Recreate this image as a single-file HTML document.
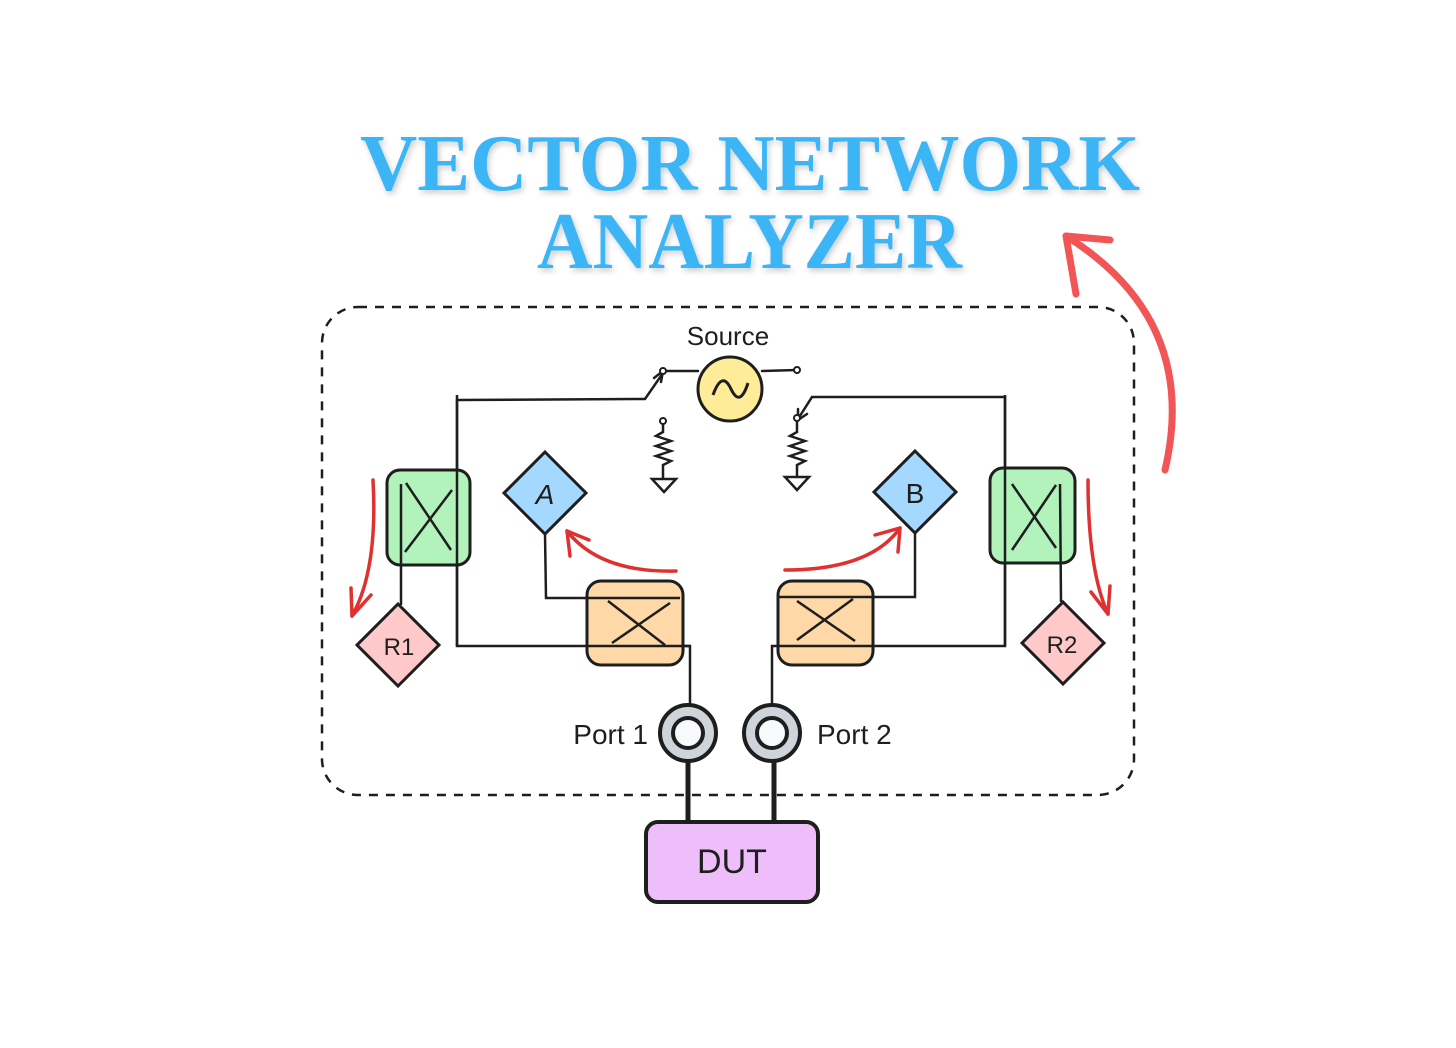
<!DOCTYPE html>
<html><head><meta charset="utf-8"><style>
html,body{margin:0;padding:0;background:#fff;}
svg{display:block;}
text{font-family:"Liberation Sans",sans-serif;}
</style></head><body>
<svg width="1456" height="1048" viewBox="0 0 1456 1048" xmlns="http://www.w3.org/2000/svg">
<rect width="1456" height="1048" fill="#fff"/>
<defs><filter id="sh" x="-5%" y="-5%" width="110%" height="120%"><feDropShadow dx="2" dy="3" stdDeviation="3" flood-color="#000" flood-opacity="0.2"/></filter></defs>
<g filter="url(#sh)" fill="#3bb5f5" font-family="Liberation Serif,serif" font-weight="bold">
<text x="360" y="190" font-size="80" textLength="780" lengthAdjust="spacingAndGlyphs" style="font-family:'Liberation Serif',serif">VECTOR NETWORK</text>
<text x="537" y="268" font-size="80" textLength="425" lengthAdjust="spacingAndGlyphs" style="font-family:'Liberation Serif',serif">ANALYZER</text>
</g>
<!-- big red arrow -->
<g fill="none" stroke="#f25555" stroke-width="7" stroke-linecap="round">
<path d="M1165 470 Q1200 320 1066 236"/>
<path d="M1066 236 L1110 240 M1066 236 L1076 294"/>
</g>
<!-- dashed frame -->
<rect x="322" y="307" width="812" height="488" rx="36" fill="none" stroke="#1e1e1e" stroke-width="2.5" stroke-dasharray="9 8"/>
<!-- wiring -->
<g fill="none" stroke="#1e1e1e" stroke-width="2.5" stroke-linecap="round">
<path d="M457 400 L645 399 L663 373"/>
<path d="M654 378 L663 371 L661 382"/>
<path d="M663 371 L698 371"/>
<path d="M762 371 L797 370"/>
<path d="M1005 397 L812 397 L798 419"/>
<path d="M798 409 L798 420 L807 414"/>
<path d="M457 400 L457 646 L690 646 L690 705"/>
<path d="M1005 397 L1005 646 L772 646 L772 705"/>
<path d="M663 424 L663 432 L656 436 L671 441 L656 446 L671 451 L656 456 L671 461 L663 465 L663 478"/>
<path d="M652 479 L676 479 L664 492 Z"/>
<path d="M797 422 L797 432 L790 436 L805 441 L790 446 L805 451 L790 456 L805 461 L797 465 L797 476"/>
<path d="M785 477 L809 477 L797 490 Z"/>
</g>
<g fill="#fff" stroke="#1e1e1e" stroke-width="2">
<circle cx="663" cy="371" r="3"/><circle cx="797" cy="370" r="3"/><circle cx="663" cy="421" r="3"/><circle cx="797" cy="418" r="3"/>
</g>
<!-- source -->
<circle cx="730" cy="389" r="32" fill="#ffec99" stroke="#1e1e1e" stroke-width="3"/>
<path d="M713 395 Q722 370 731 389 Q740 408 748 383" fill="none" stroke="#1e1e1e" stroke-width="3"/>
<text x="728" y="345" font-size="26" text-anchor="middle" fill="#1e1e1e">Source</text>
<!-- green couplers -->
<g stroke="#1e1e1e" stroke-width="3">
<rect x="387" y="470" width="83" height="95" rx="13" fill="#b2f2bb"/>
<rect x="990" y="468" width="85" height="95" rx="13" fill="#b2f2bb"/>
</g>
<g fill="none" stroke="#1e1e1e" stroke-width="2.5">
<path d="M401 484 L401 605"/><path d="M406 483 L451 550 M452 490 L405 552"/>
<path d="M1060 484 L1061 602"/><path d="M1012 550 L1056 485 M1012 484 L1056 548"/>
<path d="M457 395 L457 646"/><path d="M1005 395 L1005 646"/>
</g>
<!-- A / B -->
<g stroke="#1e1e1e" stroke-width="3">
<path d="M545 452 L586 493 L545 534 L504 493 Z" fill="#a5d8ff"/>
<path d="M915 451 L956 492 L915 533 L874 492 Z" fill="#a5d8ff"/>
<path d="M398 604 L439 645 L398 686 L357 645 Z" fill="#ffc9c9"/>
<path d="M1063 602 L1104 643 L1063 684 L1022 643 Z" fill="#ffc9c9"/>
</g>
<text x="545" y="504" font-size="28" text-anchor="middle" font-style="italic" fill="#1e1e1e">A</text>
<text x="915" y="503" font-size="28" text-anchor="middle" fill="#1e1e1e">B</text>
<text x="399" y="655" font-size="24" text-anchor="middle" fill="#1e1e1e">R1</text>
<text x="1062" y="653" font-size="24" text-anchor="middle" fill="#1e1e1e">R2</text>
<g fill="none" stroke="#1e1e1e" stroke-width="2.5">
<path d="M545 534 L546 598 L680 598"/>
<path d="M915 533 L915 597 L778 597"/>
</g>
<!-- orange couplers -->
<g stroke="#1e1e1e" stroke-width="3">
<rect x="587" y="581" width="96" height="84" rx="14" fill="#ffd8a8"/>
<rect x="778" y="581" width="95" height="84" rx="14" fill="#ffd8a8"/>
</g>
<g fill="none" stroke="#1e1e1e" stroke-width="2.5">
<path d="M608 601 L665 645 M670 603 L612 643"/>
<path d="M797 601 L855 641 M853 599 L797 640"/>
<path d="M587 598 L680 598 M778 597 L873 597"/>
<path d="M587 646 L690 646 M778 646 L873 646"/>
</g>
<!-- red arrows -->
<g fill="none" stroke="#e03131" stroke-width="3.5" stroke-linecap="round">
<path d="M373 480 Q378 570 352 616"/><path d="M352 616 L351 588 M352 616 L371 595"/>
<path d="M1088 480 Q1088 570 1108 614"/><path d="M1108 614 L1091 592 M1108 614 L1110 586"/>
<path d="M676 571 Q600 573 567 531"/><path d="M567 531 L570 556 M567 531 L589 540"/>
<path d="M785 570 Q870 570 900 528"/><path d="M900 528 L875 535 M900 528 L898 552"/>
</g>
<!-- ports -->
<g stroke="#1e1e1e">
<line x1="688" y1="760" x2="688" y2="822" stroke-width="5"/>
<line x1="774" y1="760" x2="774" y2="822" stroke-width="5"/>
<circle cx="688" cy="733" r="28" fill="#ced4da" stroke-width="4"/>
<circle cx="688" cy="733" r="15" fill="#f8f9fa" stroke-width="4"/>
<circle cx="772" cy="733" r="28" fill="#ced4da" stroke-width="4"/>
<circle cx="772" cy="733" r="15" fill="#f8f9fa" stroke-width="4"/>
</g>
<text x="648" y="744" font-size="28" text-anchor="end" fill="#1e1e1e">Port 1</text>
<text x="817" y="744" font-size="28" fill="#1e1e1e">Port 2</text>
<!-- DUT -->
<rect x="646" y="822" width="172" height="80" rx="12" fill="#eebefa" stroke="#1e1e1e" stroke-width="4"/>
<text x="732" y="873" font-size="34" text-anchor="middle" fill="#1e1e1e">DUT</text>
</svg>
</body></html>
